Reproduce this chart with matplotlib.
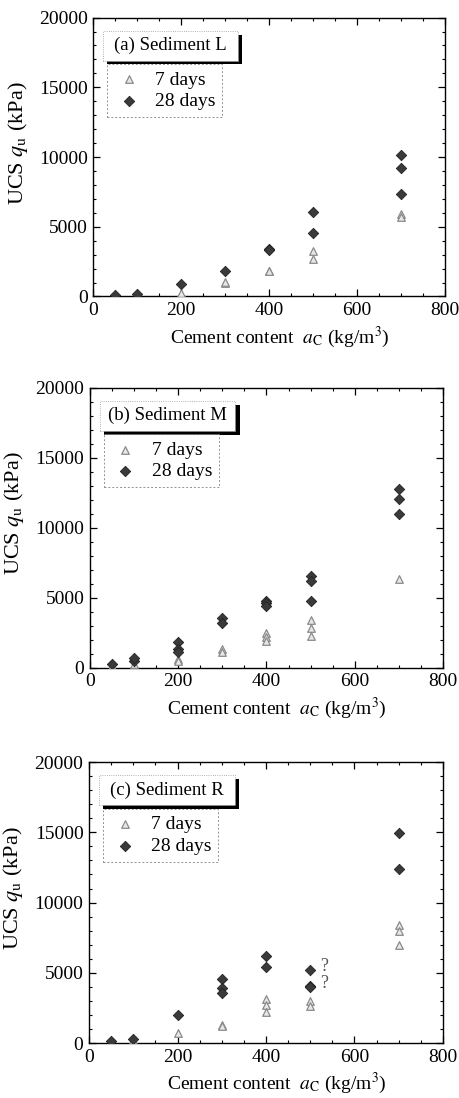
"""
UCS vs cement content for three sediments (7 / 28 days curing)
"""
import matplotlib
matplotlib.use('Agg')
import matplotlib.pyplot as plt
from matplotlib.patches import Rectangle
from matplotlib.ticker import MultipleLocator

plt.rcParams['font.family'] = ['Liberation Serif', 'DejaVu Serif']
plt.rcParams['mathtext.fontset'] = 'stix'
plt.rcParams['font.size'] = 12

# ── DATA ─────────────────────────────────────────────────────────────────────
# Sediment L
L_x7 = [50, 100, 200, 300, 300, 400, 400, 500, 500, 700, 700]
L_y7 = [50, 150, 260, 950, 1050, 1800, 1850, 3250, 2700, 5920, 5680]
L_x28 = [50, 100, 200, 300, 400, 400, 500, 500, 700, 700, 700]
L_y28 = [100, 200, 900, 1860, 3400, 3300, 6090, 4560, 10140, 9240, 7330]

# Sediment M
M_x7 = [50, 100, 200, 200, 300, 300, 400, 400, 400, 500, 500, 500, 700]
M_y7 = [100, 240, 600, 480, 1360, 1120, 2450, 2210, 1900, 3380, 2860, 2260, 6360]
M_x28 = [50, 100, 100, 200, 200, 200, 300, 300, 400, 400, 400, 500, 500, 500, 700, 700, 700]
M_y28 = [240, 480, 710, 1830, 1310, 1140, 3570, 3210, 4760, 4600, 4400, 6550, 6190, 4760, 12740, 12020, 10950]

# Sediment R
R_x7 = [50, 100, 200, 300, 300, 400, 400, 400, 500, 500, 700, 700, 700]
R_y7 = [50, 190, 710, 1300, 1190, 3130, 2730, 2180, 2970, 2610, 8420, 7950, 7000]
R_x28 = [50, 100, 200, 300, 300, 300, 400, 400, 500, 500, 500, 700, 700]
R_y28 = [120, 280, 2020, 4550, 3910, 3560, 6220, 5390, 5220, 4080, 3990, 14950, 12410]
R_q_x = [522, 522]
R_q_y = [5450, 4250]

panels = [
    ('(a) Sediment L', L_x7, L_y7, L_x28, L_y28),
    ('(b) Sediment M', M_x7, M_y7, M_x28, M_y28),
    ('(c) Sediment R', R_x7, R_y7, R_x28, R_y28),
]

rects = [
    [0.203, 0.730, 0.767, 0.254],
    [0.196, 0.392, 0.769, 0.255],
    [0.194, 0.050, 0.771, 0.256],
]

fig = plt.figure(figsize=(4.59, 10.98), dpi=100)

for i, ((title, x7, y7, x28, y28), rect) in enumerate(zip(panels, rects)):
    ax = fig.add_axes(rect)
    ax.scatter(x7, y7, marker='^', s=30, facecolor='#e8e8e8', edgecolor='#8a8a8a',
               linewidth=0.9, label='7 days', zorder=3)
    ax.scatter(x28, y28, marker='D', s=28, facecolor='#3a3a3a', edgecolor='#222222',
               linewidth=0.6, label='28 days', zorder=4)

    if i == 2:
        for qx, qy in zip(R_q_x, R_q_y):
            ax.text(qx, qy, '?', fontsize=13, color='#555555', ha='left', va='center')

    ax.set_xlim(0, 800)
    ax.set_ylim(0, 20000)
    ax.xaxis.set_major_locator(MultipleLocator(200))
    ax.xaxis.set_minor_locator(MultipleLocator(50))
    ax.yaxis.set_major_locator(MultipleLocator(5000))
    ax.yaxis.set_minor_locator(MultipleLocator(1000))
    ax.tick_params(which='both', direction='in', top=True, right=True, labelsize=14)
    ax.tick_params(which='major', length=5, width=0.9, pad=4)
    ax.tick_params(which='minor', length=2.5, width=0.8)
    for sp in ax.spines.values():
        sp.set_linewidth(1.0)

    ax.set_xlabel(r'Cement content  $a_{\mathrm{C}}$ (kg/m$^3$)', fontsize=14)
    ax.set_ylabel(r'UCS $q_{\mathrm{u}}$ (kPa)', fontsize=16)
    ax.xaxis.set_label_coords(0.53, -0.1)
    ax.yaxis.set_label_coords(-0.18, 0.55)

    # title box with black drop shadow
    bx, by, bw, bh = 0.028, 0.846, 0.384, 0.107
    ax.add_patch(Rectangle((bx + 0.012, by - 0.014), bw, bh, transform=ax.transAxes,
                           facecolor='black', edgecolor='none', zorder=5))
    ax.add_patch(Rectangle((bx, by), bw, bh, transform=ax.transAxes,
                           facecolor='white', edgecolor='#999999', linewidth=0.6,
                           linestyle=':', zorder=6))
    ax.text(bx + bw / 2, by + bh / 2, title, transform=ax.transAxes, fontsize=13.5,
            ha='center', va='center', zorder=7)

    leg = ax.legend(loc='upper left', bbox_to_anchor=(0.04, 0.833), fontsize=14,
                    frameon=True, fancybox=False, handletextpad=0.6, borderpad=0.35,
                    labelspacing=0.2, handlelength=1.5, borderaxespad=0)
    frame = leg.get_frame()
    frame.set_edgecolor('#777777')
    frame.set_linestyle((0, (2, 2)))
    frame.set_linewidth(0.7)

fig.savefig('out.png', dpi=100)
